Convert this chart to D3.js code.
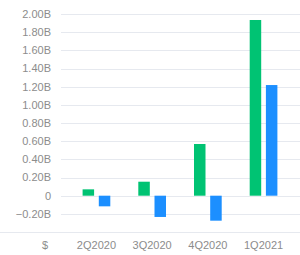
<!DOCTYPE html>
<html>
<head>
<meta charset="utf-8">
<script src="https://cdn.jsdelivr.net/npm/d3@7"></script>
<style>
  body { margin: 0; background: #fff; }
  svg { display: block; font-family: "Liberation Sans", Arial, sans-serif; }
</style>
</head>
<body>
<div id="chart"></div>
<script>
// Data
const quarters = ["2Q2020", "3Q2020", "4Q2020", "1Q2021"];
const greenValues = [0.07, 0.154, 0.569, 1.934];
const blueValues = [-0.117, -0.234, -0.275, 1.218];
const yTicks = [-0.2, 0, 0.2, 0.4, 0.6, 0.8, 1.0, 1.2, 1.4, 1.6, 1.8, 2.0];

const dimensions = { width: 300, height: 255 };

const svg = d3.select("#chart")
  .append("svg")
  .attr("width", dimensions.width)
  .attr("height", dimensions.height);

// Scales
const yScale = d3.scaleLinear()
  .domain([0, 2.0])
  .range([195.7, 14]);

const xScale = d3.scaleBand()
  .domain(quarters)
  .range([68.6, 291.4]);

const barWidth = 11.5;
const gap = 4.7;

// Gridlines
svg.append("g")
  .selectAll("line")
  .data(yTicks)
  .join("line")
  .attr("x1", 61)
  .attr("x2", 300)
  .attr("y1", d => Math.round(yScale(d)) + 0.5)
  .attr("y2", d => Math.round(yScale(d)) + 0.5)
  .attr("stroke", "#e6e9ef")
  .attr("stroke-width", 1);

// Y tick labels
const fmt = d => d === 0 ? "0" : d3.format(".2f")(d) + "B";
svg.append("g")
  .selectAll("text")
  .data(yTicks)
  .join("text")
  .attr("x", 51)
  .attr("y", d => yScale(d))
  .attr("dy", "0.35em")
  .attr("text-anchor", "end")
  .attr("font-size", 11)
  .attr("fill", "#8c8c8c")
  .text(fmt);

// Bottom axis line
svg.append("line")
  .attr("x1", 0)
  .attr("x2", 300)
  .attr("y1", 232.5)
  .attr("y2", 232.5)
  .attr("stroke", "#e6e9ef");

// Bars
const center = q => xScale(q) + xScale.bandwidth() / 2;

svg.append("g")
  .selectAll("rect")
  .data(quarters)
  .join("rect")
  .attr("x", q => center(q) - gap / 2 - barWidth)
  .attr("width", barWidth)
  .attr("y", (q, i) => yScale(Math.max(0, greenValues[i])))
  .attr("height", (q, i) => Math.abs(yScale(greenValues[i]) - yScale(0)))
  .attr("fill", "#00c373");

svg.append("g")
  .selectAll("rect")
  .data(quarters)
  .join("rect")
  .attr("x", q => center(q) + gap / 2)
  .attr("width", barWidth)
  .attr("y", (q, i) => yScale(Math.max(0, blueValues[i])))
  .attr("height", (q, i) => Math.abs(yScale(blueValues[i]) - yScale(0)))
  .attr("fill", "#1c8fff");

// X labels
svg.append("g")
  .selectAll("text")
  .data(quarters)
  .join("text")
  .attr("x", center)
  .attr("y", 245)
  .attr("dy", "0.35em")
  .attr("text-anchor", "middle")
  .attr("font-size", 11)
  .attr("fill", "#8c8c8c")
  .text(d => d);

svg.append("text")
  .attr("x", 45)
  .attr("y", 245)
  .attr("dy", "0.35em")
  .attr("text-anchor", "middle")
  .attr("font-size", 11)
  .attr("fill", "#8c8c8c")
  .text("$");
</script>
</body>
</html>
